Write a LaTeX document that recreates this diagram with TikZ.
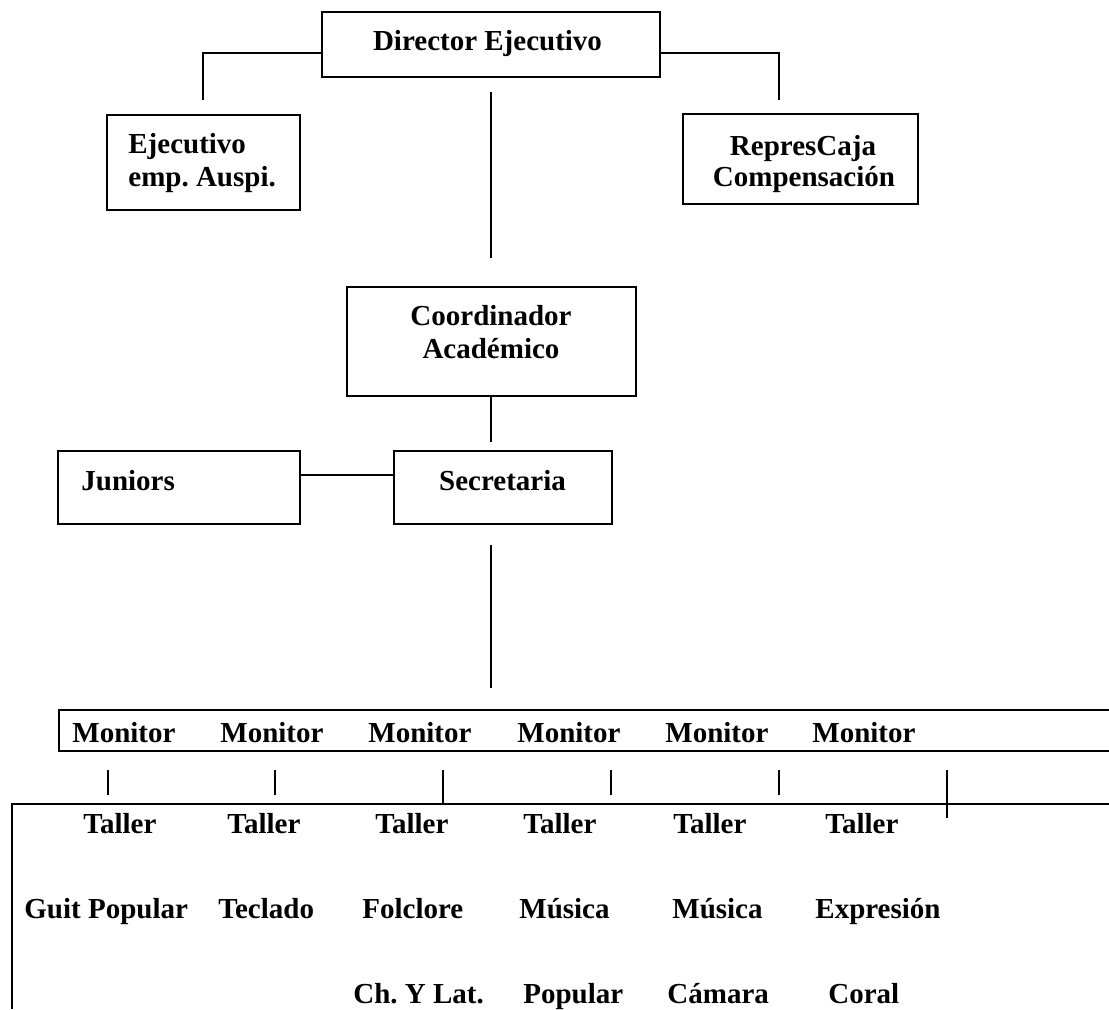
\documentclass[tikz,border=0pt]{standalone}
\usepackage{fontspec}
\setmainfont{Liberation Serif}
\frenchspacing
\begin{document}
\begin{tikzpicture}[x=0.5pt,y=-0.5pt,
  box/.style={draw=black,line width=1pt,inner sep=0pt,outer sep=0pt,rectangle},
  conn/.style={draw=black,line width=0.7pt},
  frame/.style={draw=black,line width=1pt},
  txt/.style={font=\fontsize{14.5}{16.5}\selectfont\bfseries,inner sep=0pt,anchor=base},
  txtl/.style={txt,anchor=base west}]
\useasboundingbox (0,0) rectangle (1109,1009);

% boxes
\node[box,minimum width=169pt,minimum height=32.5pt] (dir) at (491,44.5) {};
\node[box,minimum width=96.5pt,minimum height=47.5pt] (ejec) at (203.5,162.5) {};
\node[box,minimum width=117.5pt,minimum height=45pt] (rep) at (800.5,159) {};
\node[box,minimum width=144.5pt,minimum height=54.5pt] (coord) at (491.5,341.5) {};
\node[box,minimum width=121pt,minimum height=36.5pt] (jun) at (179,487.5) {};
\node[box,minimum width=109pt,minimum height=36.5pt] (sec) at (503,487.5) {};

% box texts
\node[txt] (tdir) at (487.5,50) {Director Ejecutivo};
\node[txtl] (tej1) at (128,153) {Ejecutivo};
\node[txtl] (tej2) at (128,186) {emp. Auspi.};
\node[txt] (trep1) at (803,155) {RepresCaja};
\node[txt] (trep2) at (804,186) {Compensación};
\node[txt] (tco1) at (491,325) {Coordinador};
\node[txt] (tco2) at (491,358) {Académico};
\node[txtl] (tjun) at (81,490) {Juniors};
\node[txt] (tsec) at (502.5,490) {Secretaria};

% connectors
\coordinate (ejtop) at (203,100);
\coordinate (reptop) at (779,100);
\draw[conn] (ejtop) |- (dir.west |- 0,53);
\draw[conn] (reptop) |- (dir.east |- 0,53);
\coordinate (c1) at (491,92);
\coordinate (c2) at (491,258);
\draw[conn] (c1) -- (c2);
\coordinate (c3) at (491,442);
\draw[conn] (coord.south -| c3) -- (c3);
\draw[conn] (jun.east |- 0,475) -- (sec.west |- 0,475);
\coordinate (c4) at (491,545);
\coordinate (c5) at (491,688);
\draw[conn] (c4) -- (c5);

% monitor band
\coordinate (m1) at (1109,710);
\coordinate (m2) at (59,710);
\coordinate (m3) at (59,751);
\coordinate (m4) at (1109,751);
\draw[frame] (m1) -- (m2) -- (m3) -- (m4);
\foreach \x/\n in {72/1,220/2,368/3,517/4,665/5,812/6}
  \node[txtl] (mon\n) at (\x,742) {Monitor};

% ticks
\foreach \x/\n in {108/1,275/2,611/4,779/5}{
  \coordinate (ta\n) at (\x,770);
  \coordinate (tb\n) at (\x,795);
  \draw[conn] (ta\n) -- (tb\n);
}
\coordinate (ta3) at (443,770);
\coordinate (tb3) at (443,804);
\draw[conn] (ta3) -- (tb3);
\coordinate (ta6) at (947,770);
\coordinate (tb6) at (947,818);
\draw[conn] (ta6) -- (tb6);

% lower frame
\coordinate (b1) at (1109,804);
\coordinate (b2) at (12,804);
\coordinate (b3) at (12,1009);
\draw[frame] (b1) -- (b2) -- (b3);

% taller rows
\foreach \x/\n in {83/1,227/2,375/3,523/4,673/5,825/6}
  \node[txtl] (tal\n) at (\x,833) {Taller};
\node[txtl] (r2a) at (24,918) {Guit Popular};
\node[txtl] (r2b) at (218,918) {Teclado};
\node[txtl] (r2c) at (362,918) {Folclore};
\node[txtl] (r2d) at (519,918) {Música};
\node[txtl] (r2e) at (672,918) {Música};
\node[txtl] (r2f) at (815,918) {Expresión};
\node[txtl] (r3c) at (353,1003) {Ch. Y Lat.};
\node[txtl] (r3d) at (523,1003) {Popular};
\node[txtl] (r3e) at (667,1003) {Cámara};
\node[txtl] (r3f) at (828,1003) {Coral};
\end{tikzpicture}
\end{document}
